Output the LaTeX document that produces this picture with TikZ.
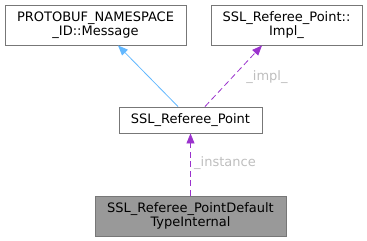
\documentclass[tikz,border=0pt]{standalone}
\usepackage{fontspec}
\setmainfont{DejaVu Sans}
\usetikzlibrary{arrows.meta,positioning}
\definecolor{inheritblue}{HTML}{63B8FF}
\definecolor{usepurple}{HTML}{9A32CD}
\definecolor{nodeborder}{HTML}{777777}
\definecolor{nodefill}{HTML}{999999}
\definecolor{edgelabel}{HTML}{BEBEBE}

\begin{document}
\begin{tikzpicture}[
  x=1pt,y=-1pt,
  cls/.style={draw=nodeborder,fill=white,line width=0.9pt,inner sep=0pt,
              align=center,font=\fontsize{13}{14.5}\selectfont},
  focus/.style={cls,fill=nodefill},
  inherit/.style={draw=inheritblue,line width=0.8pt,-{Triangle[length=10pt,width=8pt]}},
  member/.style={draw=usepurple,line width=0.8pt,dash pattern=on 6pt off 3.5pt,
                 -{Triangle[length=10pt,width=8pt]}},
  elabel/.style={text=edgelabel,font=\fontsize{13}{14.5}\selectfont}
]
\useasboundingbox (0,0) rectangle (367,241);

\node[cls,minimum width=181,minimum height=40] (msg) at (95.5,25)
  {PROTOBUF\_NAMESPACE\\\_ID::Message};
\node[cls,minimum width=151,minimum height=40] (impl) at (286.5,25)
  {SSL\_Referee\_Point::\\Impl\_};
\node[cls,minimum width=143,minimum height=26] (point) at (190.5,120)
  {SSL\_Referee\_Point};
\node[focus,minimum width=191,minimum height=40] (internal) at (190.5,216)
  {SSL\_Referee\_PointDefault\\TypeInternal};

\draw[inherit] ([xshift=-12.5pt]point.north) -- ([xshift=22.5pt]msg.south);
\draw[member] ([xshift=14.5pt]point.north) -- ([xshift=-24.5pt]impl.south);
\node[elabel] (impllbl) at (267,77) {\_impl\_};
\draw[member] (internal.north) -- (point.south);
\node[elabel] (instlbl) at (225,163) {\_instance};
\end{tikzpicture}
\end{document}
